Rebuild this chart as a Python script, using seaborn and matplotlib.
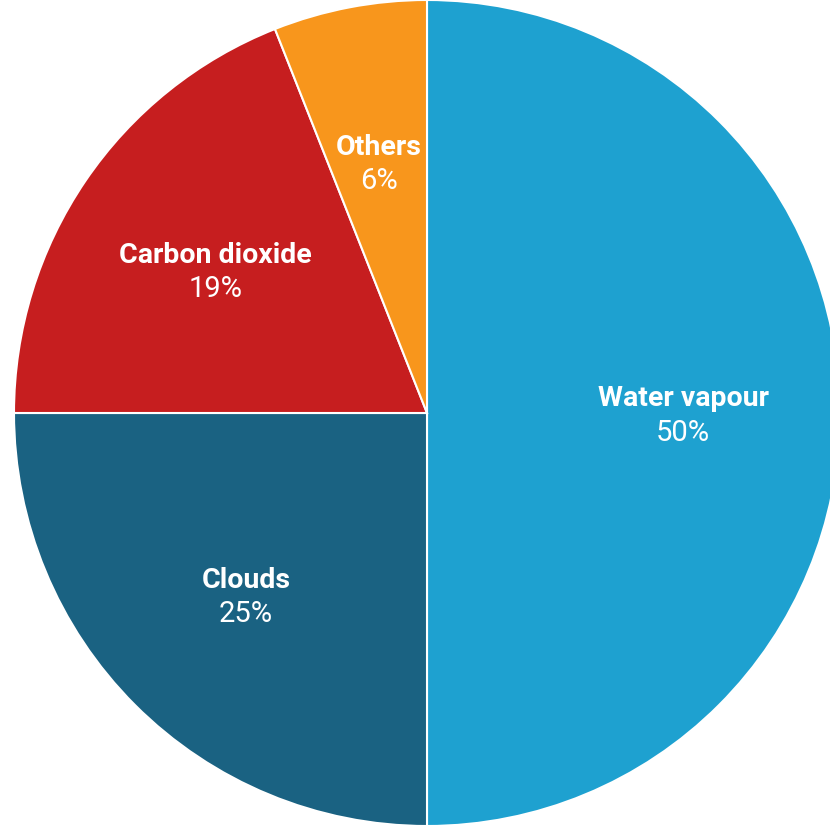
import matplotlib.pyplot as plt
import matplotlib.transforms as mtransforms
import seaborn as sns

# greenhouse effect contributions
names = ["Water vapour", "Clouds", "Carbon dioxide", "Others"]
shares = [50, 25, 19, 6]
colors = ["#1ea1d0", "#1a6282", "#c61e1f", "#f8961c"]


def main():
    sns.set_style("white")
    plt.rcParams['font.family'] = ['Roboto', 'DejaVu Sans']

    fig = plt.figure(figsize=(8.3, 8.26), dpi=100)
    ax = fig.add_axes([0, 0, 1, 1])

    wedges, labels, pcts = ax.pie(
        shares, labels=names, colors=sns.color_palette(colors),
        startangle=90, counterclock=False,
        labeldistance=0.62, pctdistance=0.62,
        autopct=lambda p: "%d%%" % round(p),
        wedgeprops=dict(edgecolor="white", linewidth=1.5),
    )

    up = mtransforms.offset_copy(ax.transData, fig=fig, y=14, units='dots')
    down = mtransforms.offset_copy(ax.transData, fig=fig, y=-20, units='dots')
    for t in labels:
        t.set(ha='center', va='center', color='white', fontsize=20.5,
              fontweight='bold', transform=up)
    for t in pcts:
        t.set(ha='center', va='center', color='white', fontsize=21,
              transform=down)

    ax.set_aspect('auto')
    ax.set_xlim(-427 / 413, 403 / 413)
    ax.set_ylim(-1.0, 1.0)
    ax.axis('off')

    fig.savefig("out.png", dpi=100)
    plt.close(fig)


if __name__ == "__main__":
    main()
